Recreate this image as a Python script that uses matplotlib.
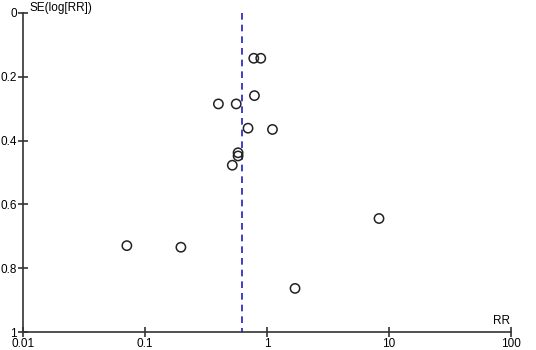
import matplotlib.pyplot as plt
import matplotlib.ticker as mticker

plt.rcParams['font.family'] = ['Liberation Sans', 'DejaVu Sans']

# study estimates: risk ratio and standard error of log(RR)
rr = [0.78, 0.89, 0.79, 0.40, 0.56, 0.70, 1.11, 0.58, 0.58, 0.52, 8.3, 0.071, 0.197, 1.70]
se = [0.142, 0.142, 0.259, 0.285, 0.285, 0.361, 0.365, 0.438, 0.448, 0.477, 0.644, 0.729, 0.734, 0.863]
pooled_rr = 0.62

x_ticks = [0.01, 0.1, 1, 10, 100]
x_labels = ['0.01', '0.1', '1', '10', '100']
y_ticks = [0, 0.2, 0.4, 0.6, 0.8, 1]
y_labels = ['0', '0.2', '0.4', '0.6', '0.8', '1']

fig = plt.figure(figsize=(5.36, 3.5), dpi=100)
ax = fig.add_axes([0.043, 0.051, 0.910, 0.912])

ax.scatter(rr, se, s=45, facecolors='none', edgecolors='#222222', linewidths=1.1, zorder=3)
ax.plot([pooled_rr, pooled_rr], [0, 1], color='#1f1fbf', linestyle=(0, (4, 3)), linewidth=1.2, zorder=2)

ax.set_xscale('log')
ax.set_xlim(0.01, 100)
ax.set_ylim(1, 0)
ax.set_xticks(x_ticks)
ax.set_xticklabels(x_labels)
ax.xaxis.set_minor_locator(mticker.NullLocator())
ax.set_yticks(y_ticks)
ax.set_yticklabels(y_labels)

for s in ['top', 'right']:
    ax.spines[s].set_visible(False)
for s in ['left', 'bottom']:
    ax.spines[s].set_color('#333333')
    ax.spines[s].set_linewidth(1.2)
ax.tick_params(direction='inout', length=7, width=1.2, color='#333333', labelsize=8.5, pad=1)

ax.text(0.0113, -0.016, 'SE(log[RR])', fontsize=8.5, ha='left', va='center')
ax.text(98, 0.985, 'RR', fontsize=8.5, ha='right', va='bottom')

fig.savefig('out.png', dpi=100)
